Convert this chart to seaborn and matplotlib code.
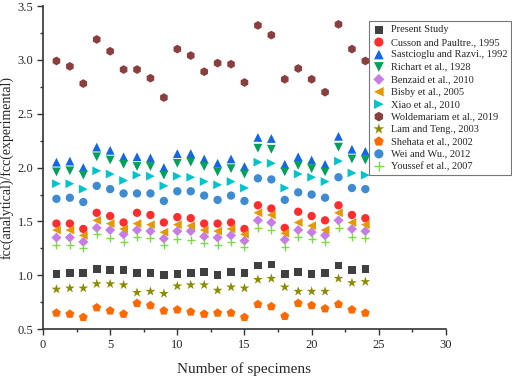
import matplotlib
matplotlib.use("Agg")
import matplotlib.pyplot as plt
import seaborn as sns
import numpy as np
import pandas as pd
from matplotlib.ticker import MultipleLocator

specimens = list(range(1, 25))

present_study = [1.01, 1.02, 1.02, 1.06, 1.05, 1.05, 1.02, 1.02, 1.00, 1.01, 1.02, 1.03,
                 1.00, 1.03, 1.02, 1.09, 1.10, 1.01, 1.03, 1.01, 1.02, 1.09, 1.05, 1.06]
cusson = [1.48, 1.48, 1.43, 1.58, 1.55, 1.49, 1.58, 1.56, 1.49, 1.54, 1.53, 1.48,
          1.48, 1.49, 1.43, 1.65, 1.62, 1.44, 1.59, 1.55, 1.51, 1.65, 1.56, 1.53]
saatcioglu = [2.05, 2.06, 2.00, 2.19, 2.16, 2.10, 2.10, 2.09, 2.00, 2.13, 2.13, 2.08,
              2.04, 2.08, 2.01, 2.28, 2.27, 2.03, 2.10, 2.07, 2.03, 2.29, 2.17, 2.15]
richart = [1.96, 1.97, 1.93, 2.10, 2.07, 2.03, 2.01, 2.01, 1.93, 2.04, 2.05, 2.01,
           1.96, 1.99, 1.94, 2.18, 2.17, 1.96, 2.02, 1.99, 1.96, 2.19, 2.08, 2.07]
benzaid = [1.35, 1.35, 1.31, 1.44, 1.42, 1.38, 1.42, 1.41, 1.34, 1.41, 1.41, 1.36,
           1.35, 1.37, 1.32, 1.51, 1.49, 1.33, 1.42, 1.40, 1.37, 1.51, 1.43, 1.41]
bisby = [1.42, 1.42, 1.37, 1.51, 1.48, 1.43, 1.48, 1.47, 1.40, 1.47, 1.46, 1.42,
         1.41, 1.43, 1.38, 1.58, 1.56, 1.39, 1.49, 1.46, 1.42, 1.58, 1.49, 1.47]
xiao = [1.85, 1.85, 1.80, 1.97, 1.94, 1.88, 1.93, 1.92, 1.83, 1.92, 1.91, 1.87,
        1.84, 1.87, 1.81, 2.05, 2.04, 1.81, 1.94, 1.91, 1.87, 2.06, 1.95, 1.93]
woldemariam = [2.99, 2.94, 2.78, 3.19, 3.08, 2.91, 2.91, 2.83, 2.65, 3.10, 3.04, 2.89,
               2.97, 2.96, 2.79, 3.32, 3.23, 2.82, 2.92, 2.82, 2.70, 3.33, 3.10, 2.99]
lam_teng = [0.87, 0.88, 0.88, 0.92, 0.92, 0.91, 0.84, 0.85, 0.83, 0.90, 0.91, 0.91,
            0.86, 0.89, 0.88, 0.96, 0.97, 0.89, 0.85, 0.85, 0.85, 0.97, 0.93, 0.94]
shehata = [0.65, 0.64, 0.61, 0.70, 0.67, 0.64, 0.74, 0.72, 0.67, 0.68, 0.66, 0.64,
           0.65, 0.65, 0.61, 0.73, 0.71, 0.62, 0.74, 0.72, 0.69, 0.73, 0.68, 0.65]
wei_wu = [1.71, 1.72, 1.68, 1.83, 1.80, 1.76, 1.76, 1.76, 1.69, 1.78, 1.78, 1.74,
          1.70, 1.74, 1.69, 1.90, 1.89, 1.70, 1.77, 1.75, 1.72, 1.91, 1.81, 1.80]
youssef = [1.28, 1.28, 1.25, 1.38, 1.35, 1.31, 1.36, 1.35, 1.28, 1.34, 1.33, 1.30,
           1.28, 1.31, 1.26, 1.44, 1.42, 1.26, 1.36, 1.34, 1.31, 1.44, 1.36, 1.35]

series_labels = ["Present Study", "Cusson and Paultre., 1995", "Sastcioglu and Razvi., 1992",
                 "Richart et al., 1928", "Benzaid et al., 2010", "Bisby et al., 2005",
                 "Xiao et al., 2010", "Woldemariam et al., 2019", "Lam and Teng., 2003",
                 "Shehata et al., 2002", "Wei and Wu., 2012", "Youssef et al., 2007"]
series_values = [present_study, cusson, saatcioglu, richart, benzaid, bisby, xiao,
                 woldemariam, lam_teng, shehata, wei_wu, youssef]

styles = [
    ("s", "#404040", 30),
    ("o", "#FF2D2D", 36),
    ("^", "#1466E6", 40),
    ("v", "#00A15A", 40),
    ("D", "#C77CE6", 26),
    ("<", "#E39A00", 40),
    (">", "#00C4CC", 40),
    ("h", "#8B3E3E", 40),
    ("*", "#8C8C00", 55),
    ("p", "#FF6A00", 45),
    ("o", "#3D8BD3", 36),
    ("+", "#7ED84A", 40),
]

sns.set_theme(style="white")
plt.rcParams["font.family"] = ["Liberation Serif", "DejaVu Serif"]

fig = plt.figure(figsize=(5.12, 3.77), dpi=100)
ax = fig.add_axes([0.084, 0.127, 0.787, 0.857])

for lab, vals, (mk, col, s) in zip(series_labels, series_values, styles):
    df = pd.DataFrame({"x": specimens, "y": vals})
    kw = dict(marker=mk, color=col, s=s, label=lab, ax=ax, zorder=3)
    if mk == "+":
        kw["linewidth"] = 1.0
    else:
        kw["edgecolor"] = "none"
    sns.scatterplot(data=df, x="x", y="y", **kw)

ax.set_xlim(0, 30)
ax.set_ylim(0.5, 3.5)
ax.xaxis.set_major_locator(MultipleLocator(5))
ax.xaxis.set_minor_locator(MultipleLocator(2.5))
ax.yaxis.set_major_locator(MultipleLocator(0.5))
ax.yaxis.set_minor_locator(MultipleLocator(0.25))
ax.yaxis.set_major_formatter(matplotlib.ticker.FormatStrFormatter("%.1f"))
ax.tick_params(axis="both", which="major", direction="out", length=4, width=1,
               color="#333333", labelsize=9, left=True, bottom=True, pad=3)
ax.tick_params(axis="both", which="minor", direction="out", length=2, width=1,
               color="#333333", left=True, bottom=True)
for sp in ["top", "right"]:
    ax.spines[sp].set_visible(False)
for sp in ["left", "bottom"]:
    ax.spines[sp].set_color("#333333")
    ax.spines[sp].set_linewidth(1.2)

ax.set_xlabel("Number of specimens", fontsize=11, labelpad=8)
ax.set_ylabel("fcc(analytical)/fcc(experimental)", fontsize=10, labelpad=3)

leg = ax.legend(loc="upper right", bbox_to_anchor=(0.998, 0.943),
                bbox_transform=fig.transFigure, borderaxespad=0, fontsize=7.5,
                frameon=True, fancybox=False, edgecolor="#555555", labelspacing=0.3,
                handletextpad=0.6, borderpad=0.35, handlelength=1.1,
                markerscale=1.1)
leg.get_frame().set_linewidth(0.8)

fig.savefig("out.png", dpi=100)
